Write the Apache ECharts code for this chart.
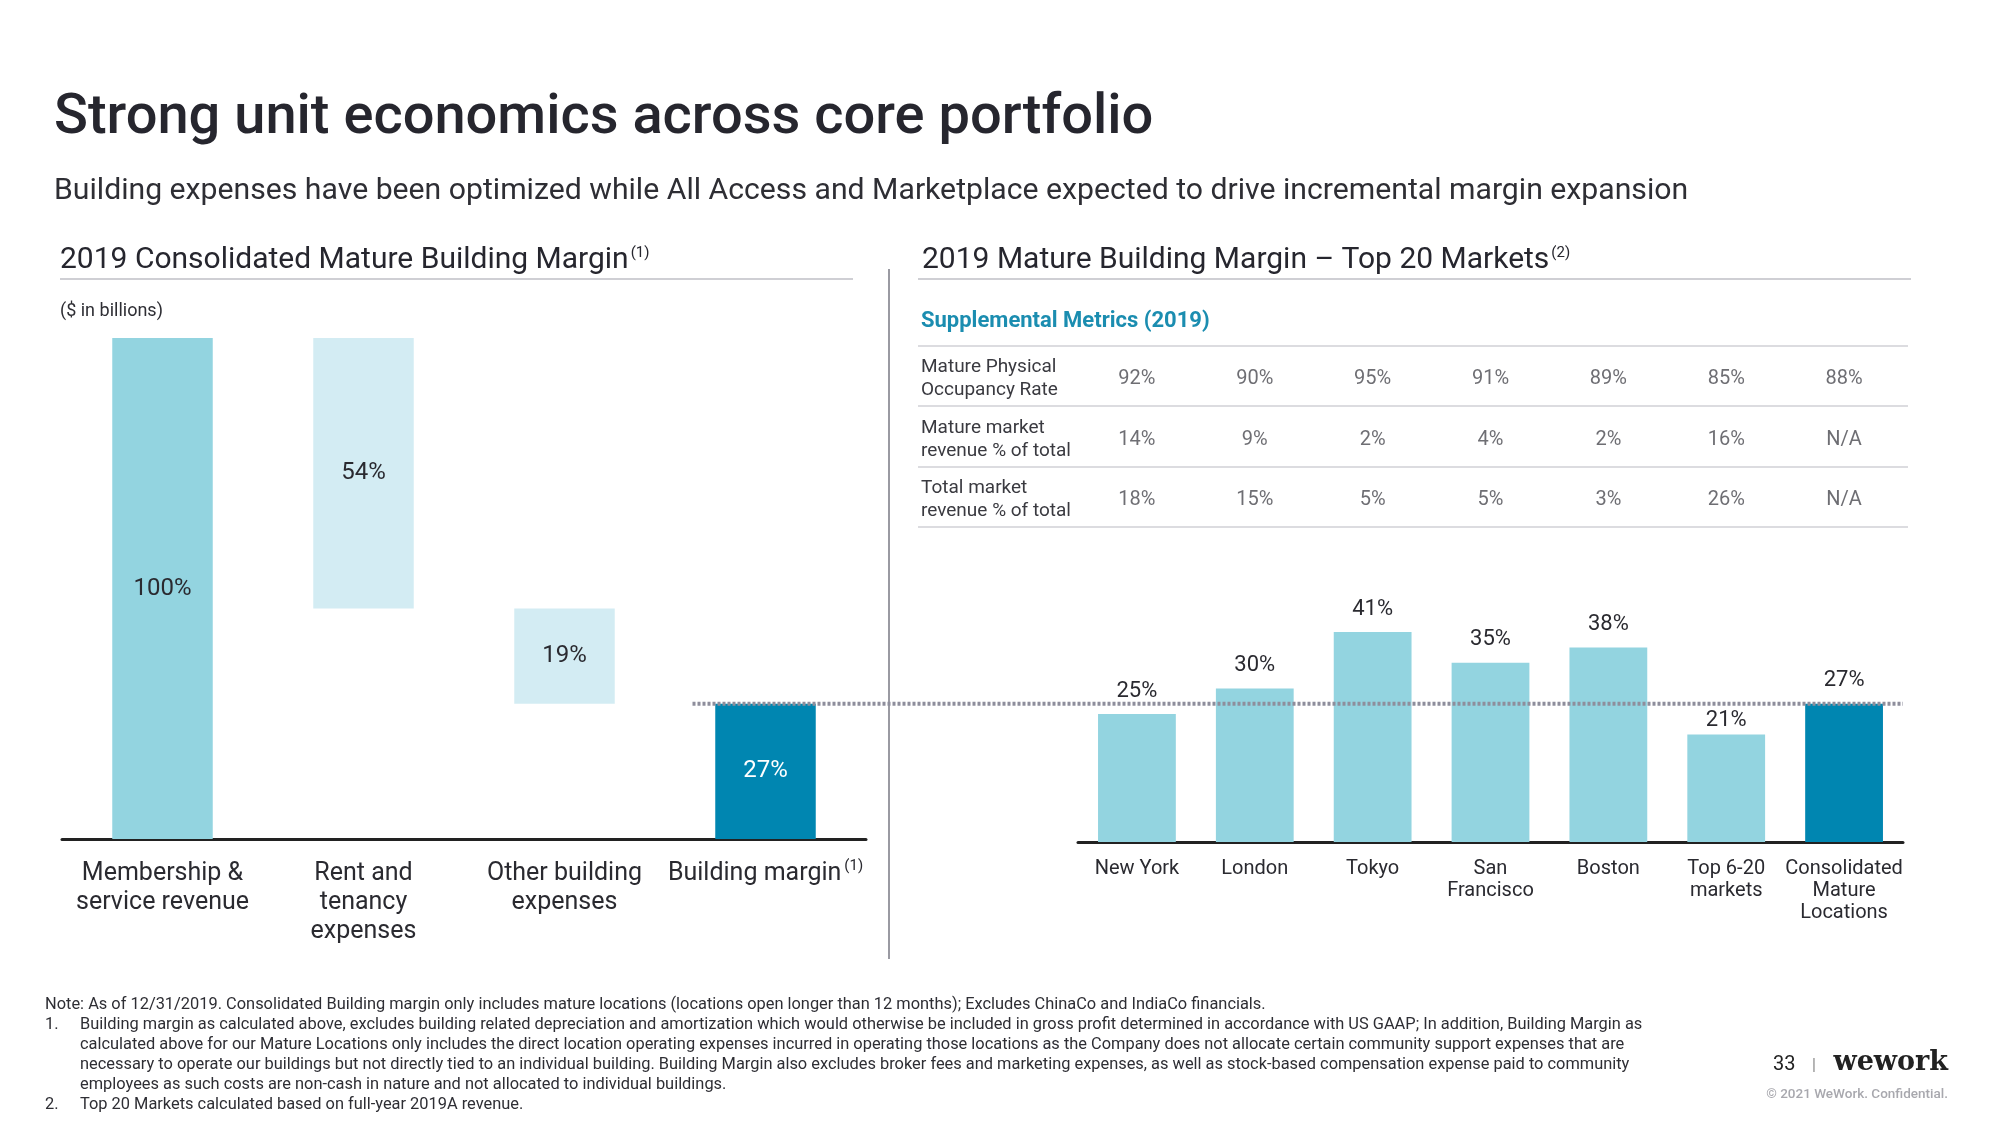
<!DOCTYPE html>
<html>
<head>
<meta charset="utf-8">
<script src="https://cdn.jsdelivr.net/npm/echarts@6/dist/echarts.min.js"></script>
<style>
html,body{margin:0;padding:0;background:#fff;}
#main{width:2000px;height:1125px;}
</style>
</head>
<body>
<div id="main"></div>
<script>
// ---------- DATA ----------
var waterfallCats = ['Membership &\nservice revenue', 'Rent and\ntenancy\nexpenses', 'Other building\nexpenses', 'Building margin'];
var waterfallValues = [100, 54, 19, 27];

var marketCats = ['New York', 'London', 'Tokyo', 'San\nFrancisco', 'Boston', 'Top 6-20\nmarkets', 'Consolidated\nMature\nLocations'];
var marketMargins = [25, 30, 41, 35, 38, 21, 27];

var tableRows = ['Mature Physical\nOccupancy Rate', 'Mature market\nrevenue % of total', 'Total market\nrevenue % of total'];
var occupancyRate = ['92%', '90%', '95%', '91%', '89%', '85%', '88%'];
var matureRevShare = ['14%', '9%', '2%', '4%', '2%', '16%', 'N/A'];
var totalRevShare = ['18%', '15%', '5%', '5%', '3%', '26%', 'N/A'];

var consolidatedMargin = 27;

// ---------- STYLE ----------
var FONT = 'Roboto';
var TEAL = '#93D4E0';
var LIGHT = '#D3ECF3';
var DARK = '#0086B1';
var TXT = '#2a2a30';
var FN = '16.4px ' + FONT;

// waterfall bases
var wfBase = [];
var running = 0;
waterfallValues.forEach(function (v, i) {
  if (i === 0 || i === waterfallValues.length - 1) { wfBase.push(0); running = v; }
  else { running -= v; wfBase.push(running); }
});
var wfColors = [TEAL, LIGHT, LIGHT, DARK];
var wfLabelColors = [TXT, TXT, TXT, '#ffffff'];

var tableData = [];
[occupancyRate, matureRevShare, totalRevShare].forEach(function (row, r) {
  row.forEach(function (txt, c) { tableData.push([c, r, txt]); });
});

var chart = echarts.init(document.getElementById('main'), null, {renderer: 'canvas'});

var option = {
  animation: false,
  backgroundColor: '#ffffff',
  textStyle: {fontFamily: FONT},
  grid: [
    {left: 62, right: 1134, top: 338, bottom: 286},
    {left: 1078, right: 97, top: 586, bottom: 283},
    {left: 1078, right: 97, top: 349, bottom: 595}
  ],
  xAxis: [
    {
      gridIndex: 0, type: 'category', data: waterfallCats,
      axisLine: {lineStyle: {color: '#222', width: 3}},
      axisTick: {show: false},
      axisLabel: {
        interval: 0, margin: 20, fontSize: 25, lineHeight: 29, color: TXT, fontFamily: FONT,
        formatter: function (v) { return v === 'Building margin' ? v + '{sup|(1)}' : v; },
        rich: {sup: {fontSize: 15, color: TXT, fontFamily: FONT, padding: [0, 0, 14, 3]}}
      }
    },
    {
      gridIndex: 1, type: 'category', data: marketCats,
      axisLine: {lineStyle: {color: '#222', width: 3}},
      axisTick: {show: false},
      axisLabel: {interval: 0, margin: 16, fontSize: 20, lineHeight: 22, color: TXT, fontFamily: FONT}
    },
    {
      gridIndex: 2, type: 'category', data: marketCats, show: false
    }
  ],
  yAxis: [
    {gridIndex: 0, type: 'value', min: 0, max: 100, show: false, splitLine: {show: false}},
    {gridIndex: 1, type: 'value', min: 0, max: 50, show: false, splitLine: {show: false}},
    {
      gridIndex: 2, type: 'category', data: tableRows, inverse: true,
      axisLine: {show: false}, axisTick: {show: false}, splitLine: {show: false},
      axisLabel: {align: 'left', margin: 157, fontSize: 19, lineHeight: 23, color: '#3a3a40', fontFamily: FONT}
    }
  ],
  series: [
    {
      type: 'bar', xAxisIndex: 0, yAxisIndex: 0, stack: 'wf', barWidth: '50%',
      itemStyle: {color: 'rgba(0,0,0,0)'}, data: wfBase, silent: true
    },
    {
      type: 'bar', xAxisIndex: 0, yAxisIndex: 0, stack: 'wf', barWidth: '50%',
      data: waterfallValues.map(function (v, i) {
        return {value: v, itemStyle: {color: wfColors[i]}, label: {color: wfLabelColors[i]}};
      }),
      label: {show: true, position: 'inside', fontSize: 24, fontFamily: FONT, formatter: '{c}%'}
    },
    {
      type: 'bar', xAxisIndex: 1, yAxisIndex: 1, barWidth: '66%',
      data: marketMargins.map(function (v, i) {
        var item = {value: v, itemStyle: {color: i === marketMargins.length - 1 ? DARK : TEAL}};
        // keep labels of bars just under the reference line below that line
        if (v <= consolidatedMargin - 4 && v > consolidatedMargin - 9) item.label = {distance: 3};
        return item;
      }),
      label: {show: true, position: 'top', distance: 12, fontSize: 22, color: TXT, fontFamily: FONT, formatter: '{c}%'}
    },
    {
      type: 'scatter', xAxisIndex: 2, yAxisIndex: 2, symbolSize: 0,
      data: tableData,
      label: {
        show: true, position: 'inside', fontSize: 20, color: '#4a4a50', fontFamily: FONT,
        formatter: function (p) { return p.data[2]; }
      }
    }
  ],
  graphic: [
    {type: 'text', left: 54, top: 91, style: {text: 'Strong unit economics across core portfolio', font: '500 56px ' + FONT, fill: '#26262e'}},
    {type: 'text', left: 54, top: 176, style: {text: 'Building expenses have been optimized while All Access and Marketplace expected to drive incremental margin expansion', font: '30.2px ' + FONT, fill: '#2e2e34'}},
    {type: 'text', left: 60, top: 245, style: {
      text: '2019 Consolidated Mature Building Margin{s|(1)}', font: '30px ' + FONT, fill: '#26262e',
      rich: {s: {fontSize: 15, fontFamily: FONT, fill: '#26262e', padding: [0, 0, 14, 2]}}
    }},
    {type: 'text', left: 922, top: 245, style: {
      text: '2019 Mature Building Margin \u2013 Top 20 Markets{s|(2)}', font: '30px ' + FONT, fill: '#26262e',
      rich: {s: {fontSize: 15, fontFamily: FONT, fill: '#26262e', padding: [0, 0, 14, 2]}}
    }},
    {type: 'line', shape: {x1: 60, y1: 279, x2: 853, y2: 279}, style: {stroke: '#cfcfd4', lineWidth: 2}},
    {type: 'line', shape: {x1: 918, y1: 279, x2: 1911, y2: 279}, style: {stroke: '#cfcfd4', lineWidth: 2}},
    {type: 'line', shape: {x1: 889, y1: 269, x2: 889, y2: 959}, style: {stroke: '#9a9aa2', lineWidth: 2}},
    {type: 'text', left: 60, top: 302, style: {text: '($ in billions)', font: '18px ' + FONT, fill: '#2e2e34'}},
    {type: 'text', left: 921, top: 310, style: {text: 'Supplemental Metrics (2019)', font: 'bold 22px ' + FONT, fill: '#1B8DB0'}},
    {type: 'line', shape: {x1: 918, y1: 346, x2: 1908, y2: 346}, style: {stroke: '#dcdce0', lineWidth: 2}},
    {type: 'line', shape: {x1: 918, y1: 406, x2: 1908, y2: 406}, style: {stroke: '#dcdce0', lineWidth: 2}},
    {type: 'line', shape: {x1: 918, y1: 467, x2: 1908, y2: 467}, style: {stroke: '#dcdce0', lineWidth: 2}},
    {type: 'line', shape: {x1: 918, y1: 527, x2: 1908, y2: 527}, style: {stroke: '#dcdce0', lineWidth: 2}},
    // footnotes
    {type: 'text', left: 45, top: 997, style: {text: 'Note: As of 12/31/2019. Consolidated Building margin only includes mature locations (locations open longer than 12 months); Excludes ChinaCo and IndiaCo financials.', font: FN, fill: '#2e2e34'}},
    {type: 'text', left: 45, top: 1017, style: {text: '1.', font: FN, fill: '#2e2e34'}},
    {type: 'text', left: 80, top: 1017, style: {text: 'Building margin as calculated above, excludes building related depreciation and amortization which would otherwise be included in gross profit determined in accordance with US GAAP; In addition, Building Margin as', font: FN, fill: '#2e2e34'}},
    {type: 'text', left: 80, top: 1037, style: {text: 'calculated above for our Mature Locations only includes the direct location operating expenses incurred in operating those locations as the Company does not allocate certain community support expenses that are', font: FN, fill: '#2e2e34'}},
    {type: 'text', left: 80, top: 1057, style: {text: 'necessary to operate our buildings but not directly tied to an individual building. Building Margin also excludes broker fees and marketing expenses, as well as stock-based compensation expense paid to community', font: FN, fill: '#2e2e34'}},
    {type: 'text', left: 80, top: 1077, style: {text: 'employees as such costs are non-cash in nature and not allocated to individual buildings.', font: FN, fill: '#2e2e34'}},
    {type: 'text', left: 45, top: 1097, style: {text: '2.', font: FN, fill: '#2e2e34'}},
    {type: 'text', left: 80, top: 1097, style: {text: 'Top 20 Markets calculated based on full-year 2019A revenue.', font: FN, fill: '#2e2e34'}},
    // footer
    {type: 'text', left: 1773, top: 1055, style: {text: '33', font: '20px ' + FONT, fill: '#222'}},
    {type: 'text', left: 1812, top: 1058, style: {text: '|', font: '16px ' + FONT, fill: '#888'}},
    {type: 'text', right: 52, top: 1049, style: {text: 'wework', font: 'bold 27px "DejaVu Serif"', fill: '#222'}},
    {type: 'text', right: 52, top: 1088, style: {text: '\u00A9 2021 WeWork. Confidential.', font: '500 13.5px ' + FONT, fill: '#a8a8ae'}}
  ]
};

chart.setOption(option);

// dotted reference line at consolidated margin, positioned through the axis scale
var yPix = chart.convertToPixel({yAxisIndex: 1}, consolidatedMargin);
var xStart = chart.convertToPixel({xAxisIndex: 0}, waterfallCats[3]) - 73;
chart.setOption({
  graphic: [{
    id: 'dots', type: 'line', z: 100,
    shape: {x1: xStart, y1: yPix, x2: 1903, y2: yPix},
    style: {stroke: '#8E8E9C', lineWidth: 4, lineDash: [3, 2]}
  }]
});
</script>
</body>
</html>
